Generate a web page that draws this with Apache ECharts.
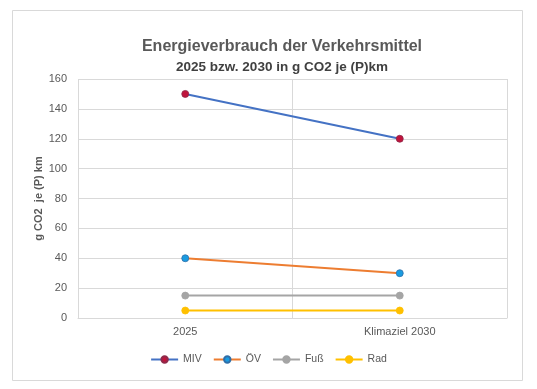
<!DOCTYPE html>
<html><head><meta charset="utf-8">
<script src="https://cdn.jsdelivr.net/npm/echarts@6/dist/echarts.min.js"></script>
<style>html,body{margin:0;padding:0;background:#fff}#c{width:537px;height:389px}</style>
</head><body><div id="c"></div>
<script>
const categories = ['2025', 'Klimaziel 2030'];
const miv = [150, 120];
const oev = [40, 30];
const fuss = [15, 15];
const rad = [5, 5];
const seriesNames = ['MIV', 'ÖV', 'Fuß', 'Rad'];
const yTicks = {min: 0, max: 160, interval: 20};

const FONT = 'Liberation Sans';
const lineColors = ['#4472C4', '#ED7D31', '#A5A5A5', '#FFC000'];
const markerFill = ['#C0143C', '#1A9BE0', '#A5A5A5', '#FFC000'];
const markerBorder = ['#8E2A4A', '#2F6EA8', '#A5A5A5', '#FFC000'];
const data = [miv, oev, fuss, rad];

const chart = echarts.init(document.getElementById('c'), null, {renderer: 'canvas'});
chart.setOption({
  backgroundColor: '#fff',
  animation: false,
  title: [{
    text: 'Energieverbrauch der Verkehrsmittel',
    left: 277, top: 34, textAlign: 'center',
    textStyle: {fontFamily: FONT, fontSize: 16, fontWeight: 'bold', color: '#595959'}
  }, {
    text: '2025 bzw. 2030 in g CO2 je (P)km',
    left: 277, top: 55, textAlign: 'center',
    textStyle: {fontFamily: FONT, fontSize: 13.5, fontWeight: 'bold', color: '#404040'}
  }],
  graphic: [{
    type: 'rect', shape: {x: 12.5, y: 10.5, width: 510, height: 370},
    style: {fill: null, stroke: '#D9D9D9', lineWidth: 1}, z: -1
  }],
  grid: {left: 78, right: 30, top: 79, bottom: 71},
  legend: {
    data: seriesNames, top: 349, left: 'center', itemWidth: 27, itemHeight: 8, itemGap: 11,
    textStyle: {fontFamily: FONT, fontSize: 10.5, color: '#595959'}
  },
  xAxis: {
    type: 'category', data: categories, boundaryGap: true,
    axisLine: {show: true, lineStyle: {color: '#D9D9D9'}},
    axisTick: {show: false},
    splitLine: {show: true, lineStyle: {color: '#D9D9D9'}},
    axisLabel: {fontFamily: FONT, fontSize: 11, color: '#595959', margin: 8}
  },
  yAxis: {
    type: 'value', min: yTicks.min, max: yTicks.max, interval: yTicks.interval,
    name: 'g CO2  je (P) km', nameLocation: 'middle', nameGap: 34, nameMoveOverlap: false,
    nameTextStyle: {fontFamily: FONT, fontSize: 11, fontWeight: 'bold', color: '#595959'},
    axisLine: {show: false}, axisTick: {show: false},
    splitLine: {lineStyle: {color: '#D9D9D9'}},
    axisLabel: {fontFamily: FONT, fontSize: 11, color: '#595959', margin: 11}
  },
  series: seriesNames.map((n, i) => ({
    name: n, type: 'line', data: data[i],
    symbol: 'circle', symbolSize: 7,
    lineStyle: {color: lineColors[i], width: 2},
    itemStyle: {color: markerFill[i], borderColor: markerBorder[i], borderWidth: 0.8}
  }))
});
</script></body></html>
